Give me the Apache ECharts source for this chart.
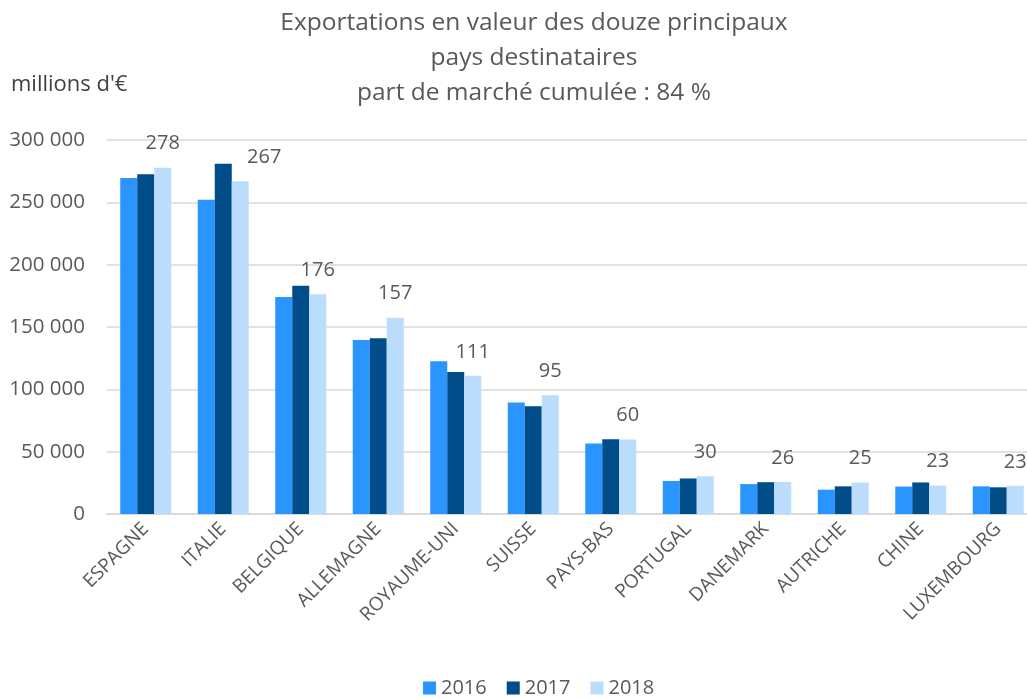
<!DOCTYPE html>
<html>
<head>
<meta charset="utf-8">
<script src="https://cdn.jsdelivr.net/npm/echarts@6/dist/echarts.min.js"></script>
<style>
  html, body { margin: 0; padding: 0; background: #fff; }
  #main { width: 1027px; height: 699px; }
</style>
</head>
<body>
<div id="main"></div>
<script>
// pays (ordre du graphique)
const categories = ["ESPAGNE", "ITALIE", "BELGIQUE", "ALLEMAGNE", "ROYAUME-UNI", "SUISSE",
  "PAYS-BAS", "PORTUGAL", "DANEMARK", "AUTRICHE", "CHINE", "LUXEMBOURG"];
const years = ["2016", "2017", "2018"];
// valeurs en millions d'€
const values2016 = [269500, 252000, 174000, 139500, 122500, 89500, 56500, 26500, 24000, 19500, 22000, 22200];
const values2017 = [272500, 281000, 183000, 141000, 114000, 86500, 60000, 28500, 25500, 22200, 25300, 21400];
const values2018 = [277800, 267000, 176300, 157400, 110800, 95200, 59800, 30300, 25800, 25200, 22800, 22600];
const yTicks = [0, 50000, 100000, 150000, 200000, 250000, 300000];

const colors = ["#2B95FF", "#014D89", "#BBDDFD"];
const txt = "#595959";
const font = "Open Sans";

const chart = echarts.init(document.getElementById("main"), null, { renderer: "canvas" });

const fmt = (v) => String(v).replace(/\B(?=(\d{3})+(?!\d))/g, " ");

const series = [values2016, values2017, values2018].map((vals, i) => ({
  name: years[i],
  type: "bar",
  barWidth: 17,
  barGap: "0%",
  animation: false,
  itemStyle: { color: colors[i] },
  data: i === 2
    ? vals.map((v, k) => ({
        value: v,
        // l'étiquette d'ITALIE est décalée pour ne pas chevaucher 2017
        label: k === 1 ? { offset: [24, 0] } : undefined,
      }))
    : vals,
  label: {
    show: i === 2,
    position: "top",
    distance: 14,
    color: txt,
    fontFamily: font,
    fontSize: 20,
    formatter: (p) => Math.round(p.value / 1000),
  },
}));

const option = {
  backgroundColor: "#fff",
  textStyle: { fontFamily: font },
  title: {
    text: "Exportations en valeur des douze principaux\npays destinataires\npart de marché cumulée : 84 %",
    left: 529,
    top: 1,
    textAlign: "center",
    textStyle: {
      color: txt,
      fontFamily: font,
      fontSize: 24.5,
      fontWeight: "normal",
      lineHeight: 35,
    },
  },
  graphic: [{
    type: "text",
    left: 11,
    top: 74,
    style: { text: "millions d'€", fill: "#404040", font: "22px 'Open Sans'" },
  }],
  legend: {
    data: years,
    bottom: -4,
    left: 418,
    itemWidth: 13,
    itemHeight: 13,
    itemGap: 20,
    icon: "rect",
    textStyle: { color: txt, fontFamily: font, fontSize: 20 },
  },
  grid: {
    left: 107, top: 140, width: 930, bottom: 185,
    containLabel: false, outerBoundsMode: "none",
  },
  xAxis: {
    type: "category",
    data: categories,
    axisLine: { lineStyle: { color: "#D9D9D9", width: 2 } },
    axisTick: { show: false },
    axisLabel: {
      rotate: 45,
      color: txt,
      fontFamily: font,
      fontSize: 19,
      margin: 12,
      interval: 0,
    },
  },
  yAxis: {
    type: "value",
    min: yTicks[0],
    max: yTicks[yTicks.length - 1],
    interval: yTicks[1] - yTicks[0],
    axisLine: { show: false },
    axisTick: { show: false },
    splitLine: { lineStyle: { color: "#D9D9D9", width: 1.5 } },
    axisLabel: {
      color: txt,
      fontFamily: font,
      fontSize: 20.5,
      margin: 22,
      formatter: fmt,
    },
  },
  series: series,
};

chart.setOption(option);
</script>
</body>
</html>
